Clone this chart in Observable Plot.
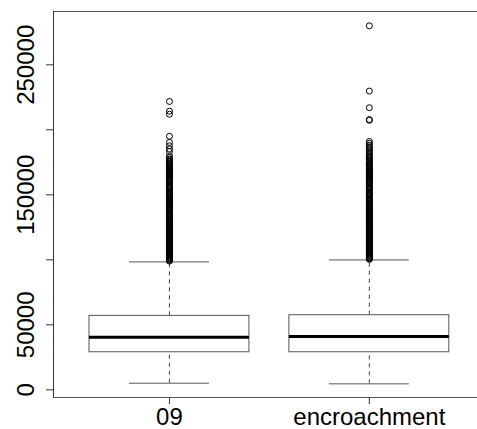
<!DOCTYPE html>
<html><head><meta charset="utf-8">
<script src="https://cdn.jsdelivr.net/npm/d3@7"></script>
<script src="https://cdn.jsdelivr.net/npm/@observablehq/plot@0.6"></script>
<style>html,body{margin:0;padding:0;background:#fff;overflow:hidden} svg{display:block}</style>
</head><body><div id="chart"></div>
<script>
const categories = ["09", "encroachment"];
const lowerWhisker = [5100, 4600];
const q1 = [28900, 28900];
const medians = [40500, 41000];
const q3 = [56900, 57400];
const upperWhisker = [98400, 99900];
const yTicks = [0, 50000, 100000, 150000, 200000, 250000];
const yLabels = [0, 50000, 150000, 250000];
// outliers, in thousands
const outliers09 = [221.8, 214.3, 212.0, 195.0, 190.3, 187.7, 185.2, 183.4, 180.0, 178.6, 177.4, 176.5, 175.6, 174.8, 174.0, 173.3, 172.6,
  172.0, 171.4, 170.8, 170.1, 169.5, 168.9, 168.2, 167.6, 167.0, 166.3, 165.7, 165.1, 164.4, 163.8, 163.2, 162.5, 161.9, 161.3, 160.6, 160.0, 159.4,
  158.0, 157.3, 156.7, 156.1, 155.4, 154.8, 154.2, 152.9, 152.2, 151.6, 151.0, 150.3, 149.7, 149.1, 148.4, 147.8, 147.2, 146.5, 145.9, 145.3,
  144.6, 144.0, 143.4, 142.7, 142.1, 141.5, 140.8, 140.2, 139.6, 138.9, 138.3, 137.7, 136.4, 135.7, 135.1, 134.5, 133.8, 133.2, 132.6, 131.9,
  131.3, 130.7, 130.0, 129.4, 128.8, 128.1, 127.5, 126.9, 126.2, 125.6, 125.0, 124.3, 123.7, 123.1, 122.4, 121.8, 121.2, 120.5, 119.9, 119.3,
  118.6, 118.0, 117.4, 116.7, 116.1, 115.5, 114.8, 114.2, 113.6, 112.9, 112.3, 111.7, 111.0, 110.4, 109.8, 109.1, 108.5, 107.9, 107.2, 106.6,
  106.0, 105.3, 104.7, 104.1, 103.4, 102.8, 102.2, 101.5, 100.9, 100.3, 99.6, 99.0];
const outliersEnc = [280.0, 229.8, 217.0, 207.9, 207.3, 191.0, 189.6, 188.2, 186.9, 185.6, 184.4, 183.2, 182.0, 180.9, 179.8, 178.8, 177.8,
  176.9, 176.0, 175.1, 174.2, 173.4, 172.6, 171.9, 171.3, 170.6, 170.0, 169.4, 168.7, 168.1, 167.5, 166.8, 166.2, 165.6, 164.9, 164.3, 163.7,
  163.0, 162.4, 161.8, 161.1, 160.5, 159.9, 159.2, 158.6, 157.9, 156.6, 155.9, 155.3, 154.7, 154.0, 152.7, 152.1, 151.5, 150.8, 150.2, 149.6,
  148.9, 147.6, 147.0, 146.4, 145.7, 145.1, 144.5, 143.8, 143.2, 142.6, 141.9, 141.3, 140.7, 140.0, 139.4, 138.8, 138.1, 137.5, 136.9, 136.2,
  135.6, 135.0, 134.3, 133.7, 133.1, 132.4, 131.8, 131.2, 130.5, 129.9, 129.3, 128.6, 128.0, 127.4, 126.7, 126.1, 125.5, 124.8, 124.2, 123.6,
  122.9, 122.3, 121.7, 121.0, 120.4, 119.8, 119.1, 118.5, 117.9, 117.2, 116.6, 116.0, 115.3, 114.7, 114.1, 113.4, 112.8, 112.2, 111.5, 110.9,
  110.3, 109.6, 109.0, 108.4, 107.7, 107.1, 106.5, 105.8, 105.2, 104.6, 103.9, 103.3, 102.7, 102.0, 101.4, 100.8, 100.3];

const boxes = categories.map((c, i) => ({
  pos: i + 1, name: c,
  lower: lowerWhisker[i], q1: q1[i], median: medians[i], q3: q3[i], upper: upperWhisker[i]
}));
const outlierRows = [
  ...outliers09.map(v => ({pos: 1, value: v * 1000})),
  ...outliersEnc.map(v => ({pos: 2, value: v * 1000}))
];

const yDomain = [-5900, 291000];
const xDomain = [0.42, 2.541];
const lineColor = "#555";
const font = "'Liberation Sans', Arial, Helvetica, sans-serif";
const fs = 24;

const chart = Plot.plot({
  width: 477,
  height: 429,
  marginLeft: 53,
  marginRight: 0,
  marginTop: 11,
  marginBottom: 32,
  style: {fontFamily: font, background: "white", color: "black"},
  x: {type: "linear", domain: xDomain, axis: null, label: null},
  y: {domain: yDomain, axis: null, label: null},
  marks: [
    Plot.ruleY([yDomain[1]], {stroke: lineColor}),
    Plot.ruleY([yDomain[0]], {stroke: lineColor}),
    Plot.ruleX([xDomain[0]], {stroke: "#333"}),
    Plot.axisY({ticks: yTicks, tickSize: 7, tickPadding: 13, tickRotate: -90, fontSize: fs, label: null,
      tickFormat: d => yLabels.includes(d) ? String(d) : "", stroke: "#333"}),
    Plot.axisX({ticks: [1, 2], tickSize: 7, tickPadding: 3, fontSize: fs, label: null,
      tickFormat: i => categories[i - 1], stroke: "#333"}),
    Plot.ruleX(boxes, {x: "pos", y1: "q3", y2: "upper", stroke: "#444", strokeDasharray: "4,4"}),
    Plot.ruleX(boxes, {x: "pos", y1: "lower", y2: "q1", stroke: "#444", strokeDasharray: "4,4"}),
    Plot.ruleY(boxes, {y: "upper", x1: d => d.pos - 0.2, x2: d => d.pos + 0.2, stroke: lineColor}),
    Plot.ruleY(boxes, {y: "lower", x1: d => d.pos - 0.2, x2: d => d.pos + 0.2, stroke: lineColor}),
    Plot.rect(boxes, {x1: d => d.pos - 0.4, x2: d => d.pos + 0.4, y1: "q1", y2: "q3", fill: "white", stroke: lineColor}),
    Plot.ruleY(boxes, {y: "median", x1: d => d.pos - 0.4, x2: d => d.pos + 0.4, stroke: "black", strokeWidth: 3}),
    Plot.dot(outlierRows, {x: "pos", y: "value", r: 3, stroke: "black", fill: "none", strokeWidth: 1})
  ]
});
document.getElementById("chart").append(chart);
</script>
</body></html>
